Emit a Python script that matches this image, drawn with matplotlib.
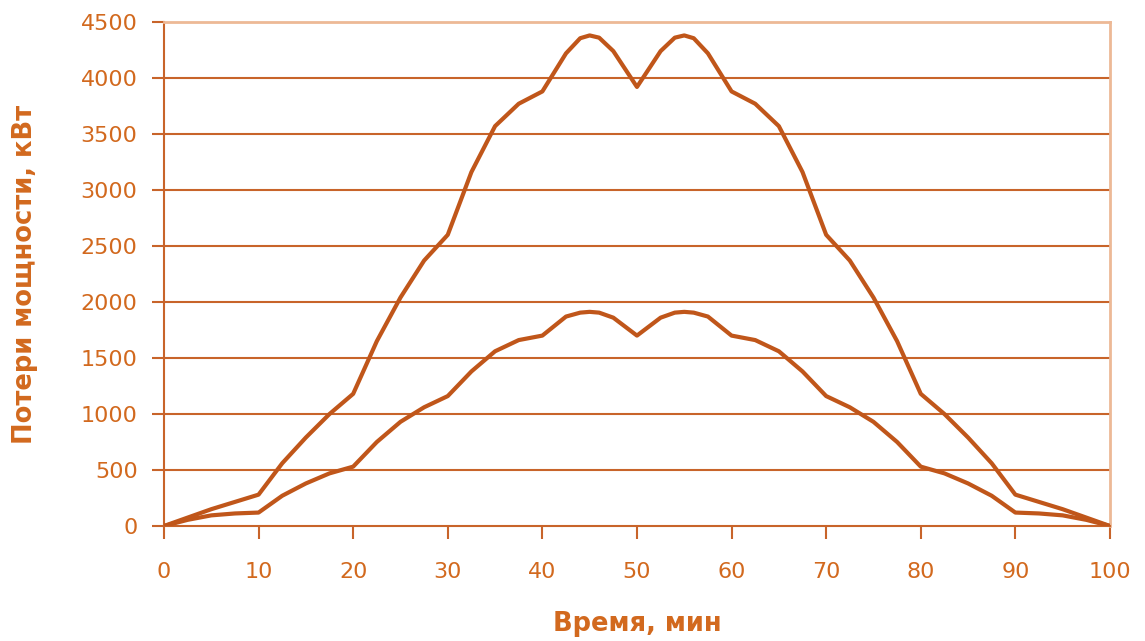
import matplotlib
matplotlib.use('Agg')
import matplotlib.pyplot as plt

# time, minutes
t = [0, 2.5, 5, 7.5, 10, 12.5, 15, 17.5, 20, 22.5, 25, 27.5, 30, 32.5, 35, 37.5, 40,
     42.5, 44, 45, 46, 47.5, 50, 52.5, 54, 55, 56, 57.5, 60, 62.5, 65, 67.5, 70, 72.5, 75, 77.5, 80,
     82.5, 85, 87.5, 90, 92.5, 95, 97.5, 100]

# power losses, kW
upper = [0, 75, 150, 215, 280, 560, 790, 1000, 1180, 1650, 2040, 2370, 2600, 3160, 3570, 3770, 3880,
         4220, 4355, 4380, 4360, 4240, 3920, 4240, 4360, 4380, 4355, 4220, 3880, 3770, 3570, 3160, 2600,
         2370, 2040, 1650, 1180, 1000, 790, 560, 280, 215, 150, 75, 0]
lower = [0, 55, 95, 112, 120, 270, 380, 470, 530, 750, 930, 1060, 1160, 1380, 1560, 1660, 1700,
         1870, 1905, 1912, 1905, 1860, 1700, 1860, 1905, 1912, 1905, 1870, 1700, 1660, 1560, 1380, 1160,
         1060, 930, 750, 530, 470, 380, 270, 120, 112, 95, 55, 0]

x_ticks = list(range(0, 101, 10))
y_ticks = list(range(0, 4501, 500))

line_c = '#C0561A'
grid_c = '#C8642A'
text_c = '#D2691E'
frame_c = '#EDB996'

plt.rcParams['font.family'] = ['DejaVu Sans']

fig = plt.figure(figsize=(11.45, 6.41), dpi=100)
ax = fig.add_axes([0.1432, 0.1794, 0.8262, 0.7863])

for v in y_ticks[1:-1]:
    ax.axhline(v, color=grid_c, lw=1.5, zorder=1)

ax.plot(t, upper, color=line_c, lw=3.0, solid_joinstyle='round', zorder=3)
ax.plot(t, lower, color=line_c, lw=3.0, solid_joinstyle='round', zorder=3)

ax.set_xlim(0, 100)
ax.set_ylim(0, 4500)
ax.set_xticks(x_ticks)
ax.set_yticks(y_ticks)

ax.spines['left'].set_color(grid_c)
ax.spines['bottom'].set_color(grid_c)
ax.spines['left'].set_linewidth(1.5)
ax.spines['bottom'].set_linewidth(1.5)
ax.spines['top'].set_color(frame_c)
ax.spines['right'].set_color(frame_c)
ax.spines['top'].set_linewidth(2)
ax.spines['right'].set_linewidth(2)

ax.tick_params(axis='both', colors=grid_c, labelcolor=text_c, labelsize=16,
               length=9, width=1.5, direction='out')
ax.tick_params(axis='x', pad=17)
ax.tick_params(axis='y', pad=10)

ax.set_xlabel('Время, мин', color=text_c, fontsize=18.5, fontweight='bold')
ax.set_ylabel('Потери мощности, кВт', color=text_c, fontsize=18.5, fontweight='bold')
ax.xaxis.set_label_coords(0.5, -0.168)
ax.yaxis.set_label_coords(-0.133, 0.5)

fig.savefig('out.png', dpi=100)
